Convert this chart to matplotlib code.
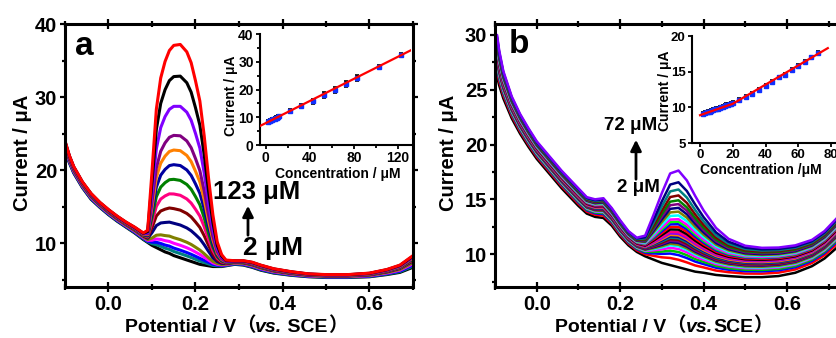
import numpy as np
import matplotlib
matplotlib.use("Agg")
import matplotlib.pyplot as plt
from matplotlib.ticker import MultipleLocator, FormatStrFormatter
from matplotlib.offsetbox import TextArea, HPacker, AnnotationBbox

plt.rcParams["font.family"] = ["Liberation Sans", "DejaVu Sans"]
plt.rcParams["font.weight"] = "bold"
plt.rcParams["axes.labelweight"] = "bold"

################################################################################
# Data.                                                   #
################################################################################
# Panel a: DPV curves = lowest baseline + background lift + oxidation peak
pot_a = [-0.10, -0.09, -0.08, -0.06, -0.04, -0.02, 0.00, 0.02, 0.04, 0.06, 0.08,
         0.09, 0.10, 0.11, 0.12, 0.13, 0.14, 0.15, 0.165, 0.18, 0.19, 0.20, 0.21,
         0.22, 0.23, 0.24, 0.25, 0.26, 0.27, 0.29, 0.31, 0.33, 0.35, 0.38, 0.42,
         0.46, 0.50, 0.55, 0.60, 0.64, 0.67, 0.70]
base_a = [22.6, 21.0, 19.6, 17.6, 16.0, 14.9, 13.9, 13.0, 12.2, 11.4, 10.5,
          10.1, 9.7, 9.4, 9.1, 8.8, 8.6, 8.3, 8.0, 7.7, 7.5, 7.3, 7.1,
          7.0, 6.9, 6.8, 6.8, 6.8, 6.9, 7.1, 7.0, 6.7, 6.3, 5.9, 5.6,
          5.4, 5.3, 5.3, 5.4, 5.7, 6.0, 6.7]
spread_a = [1.4, 1.0, 0.9, 0.8, 0.8, 0.7, 0.7, 0.7, 0.7, 0.8, 0.9,
            0.8, 0.7, 0.7, 0.7, 0.7, 0.7, 0.7, 0.7, 0.7, 0.7, 0.7, 0.7,
            0.6, 0.6, 0.5, 0.5, 0.5, 0.5, 0.5, 0.6, 0.7, 0.7, 0.6, 0.5,
            0.4, 0.4, 0.4, 0.5, 0.7, 1.0, 1.6]
shape_a = [0.0, 0.0, 0.0, 0.0, 0.0, 0.0, 0.0, 0.0, 0.0, 0.0, 0.0,
           0.03, 0.33, 0.64, 0.80, 0.89, 0.95, 0.985, 1.0, 0.975, 0.93, 0.85, 0.76,
           0.60, 0.40, 0.23, 0.10, 0.04, 0.01, 0.0, 0.0, 0.0, 0.0, 0.0, 0.0,
           0.0, 0.0, 0.0, 0.0, 0.0, 0.0, 0.0]
peak_a = [0.0, 0.5, 0.9, 1.5, 2.2, 4.1, 6.1, 8.1, 10.1, 12.1, 14.1, 16.1, 20.1, 24.2, 28.5]
lift_a = [0.0, 0.1, 0.2, 0.3, 0.4, 0.55, 0.6, 0.65, 0.7, 0.75, 0.8, 0.85, 0.9, 0.95, 1.0]
colors_a = ["#000000", "#008080", "#0000FF", "#FF00FF", "#808000", "#000080", "#800000",
            "#FF0080", "#008000", "#0000A0", "#FF8000", "#800080", "#8000FF", "#000000", "#FF0000"]

# Panel a inset: calibration
conc_a = [2, 3, 4, 5, 6, 7, 8, 9, 10, 11, 12, 22, 32, 43, 53, 63, 73, 83, 103, 123]
cur_a = [8.3, 8.5, 8.7, 8.9, 9.1, 9.3, 9.5, 9.7, 9.9, 10.1, 10.3, 12.2, 14.0, 15.8, 18.0,
         19.9, 22.0, 24.2, 28.2, 32.4]
err_a = [0.6, 0.6, 0.6, 0.6, 0.6, 0.6, 0.6, 0.6, 0.6, 0.6, 0.6, 0.7, 0.8, 0.9, 1.0,
         1.1, 1.0, 1.2, 0.6, 0.6]
fit_a_x = [-5, 132]
fit_a_y = [6.9, 34.2]

# Panel b
pot_b = [-0.10, -0.095, -0.09, -0.08, -0.06, -0.04, -0.02, 0.00, 0.02, 0.04, 0.06,
         0.08, 0.10, 0.12, 0.14, 0.16, 0.18, 0.20, 0.22, 0.24, 0.26, 0.28, 0.30,
         0.32, 0.34, 0.36, 0.38, 0.40, 0.43, 0.46, 0.50, 0.54, 0.58, 0.62, 0.66,
         0.69, 0.72, 0.75]
base_b = [25.8, 26.2, 25.4, 24.2, 22.4, 21.0, 19.8, 18.7, 17.8, 16.9, 16.0,
          15.2, 14.4, 13.7, 13.4, 13.3, 12.6, 11.6, 10.8, 10.2, 9.8, 9.5, 9.2,
          9.0, 8.8, 8.6, 8.4, 8.3, 8.1, 8.0, 7.9, 7.9, 8.0, 8.3, 8.9,
          9.6, 10.6, 11.8]
spread_b = [4.0, 3.8, 3.2, 2.5, 2.0, 1.8, 1.7, 1.6, 1.6, 1.6, 1.6,
            1.6, 1.6, 1.5, 1.6, 1.8, 1.6, 1.5, 1.3, 1.3, 1.3, 1.3, 1.4,
            1.5, 1.6, 1.7, 1.8, 1.9, 2.1, 2.3, 2.5, 2.6, 2.6, 2.5, 2.4,
            2.5, 2.7, 2.9]
shape_b = [0.0, 0.0, 0.0, 0.0, 0.0, 0.0, 0.0, 0.0, 0.0, 0.0, 0.0,
           0.0, 0.0, 0.0, 0.0, 0.0, 0.0, 0.0, 0.0, 0.0, 0.08, 0.38, 0.68,
           0.94, 0.99, 0.88, 0.70, 0.52, 0.30, 0.15, 0.05, 0.01, 0.0, 0.0, 0.0,
           0.0, 0.0, 0.0]
peak_b = [0.0, 0.5, 0.8, 1.0, 1.2, 1.4, 1.5, 1.6, 1.7, 1.8, 1.9, 2.0, 2.1, 2.2, 2.3,
          2.5, 2.7, 2.9, 3.1, 3.3, 3.6, 3.9, 4.2, 4.5, 4.8, 5.2, 5.7, 6.3, 7.3]
lift_b = [0.0, 0.12, 0.2, 0.25, 0.3, 0.33, 0.36, 0.4, 0.42, 0.45, 0.48, 0.5, 0.52, 0.55, 0.58,
          0.6, 0.63, 0.66, 0.68, 0.7, 0.73, 0.76, 0.79, 0.82, 0.85, 0.88, 0.91, 0.95, 1.0]
colors_b = ["#000000", "#FF0000", "#0000FF", "#00C000", "#FF00FF", "#00FFFF", "#808000",
            "#000080", "#800080", "#800000", "#008080", "#0000A0", "#FF8000", "#8000FF",
            "#FF0080", "#000000", "#FF0000", "#0000FF", "#00FF00", "#FF00FF", "#00FFFF",
            "#808000", "#000080", "#800080", "#008000", "#800000", "#008080", "#000080",
            "#8000FF"]

# Panel b inset
conc_b = [2, 3, 4, 5, 6, 7, 8, 9, 10, 11, 12, 13, 14, 15, 16, 17, 18, 19, 20,
          24, 28, 32, 36, 40, 44, 48, 52, 56, 60, 64, 68, 72]
cur_b = [9.1, 9.2, 9.3, 9.4, 9.4, 9.5, 9.6, 9.7, 9.8, 9.8, 9.9, 10.0, 10.1, 10.2, 10.3,
         10.3, 10.4, 10.5, 10.6, 11.0, 11.5, 11.9, 12.5, 13.0, 13.6, 14.2, 14.6, 15.3,
         15.8, 16.4, 17.0, 17.6]
err_b = [0.25] * len(conc_b)
fit_b_x = [0, 20, 78]
fit_b_y = [8.9, 10.5, 18.3]

################################################################################
# Figure.                                                                      #
################################################################################
W, H = 837, 338
fig = plt.figure(figsize=(W / 100, H / 100), dpi=100)


def box(l, t, r, b):
    return [l / W, 1 - b / H, (r - l) / W, (b - t) / H]


def style_main(ax):
    for s in ax.spines.values():
        s.set_linewidth(2.2)
    ax.tick_params(which="both", direction="out", width=1.6, labelsize=14.5, pad=2,
                   top=True, right=True)
    ax.tick_params(which="major", length=3.5)
    ax.tick_params(which="minor", length=2.5)
    ax.tick_params(axis="x", which="both", top=True, direction="inout")
    ax.tick_params(axis="x", which="major", length=7)
    ax.tick_params(axis="x", which="minor", length=5)
    ax.tick_params(axis="y", which="both", right=True)
    for t in ax.get_xticklabels() + ax.get_yticklabels():
        t.set_fontweight("bold")


def style_inset(ax, size=10):
    ax.patch.set_alpha(0)
    ax.spines["top"].set_visible(False)
    ax.spines["right"].set_visible(False)
    for s in ("left", "bottom"):
        ax.spines[s].set_linewidth(1.5)
    ax.tick_params(which="both", direction="out", width=1.3, labelsize=size, pad=1.5)
    ax.tick_params(which="major", length=3)
    ax.tick_params(which="minor", length=2)


def rich_xlabel(parts, x, y, size=14):
    areas = []
    for s, fam, st in parts:
        areas.append(TextArea(s, textprops=dict(fontsize=size, fontweight="bold",
                                                family=fam, style=st)))
    pack = HPacker(children=areas, align="baseline", pad=0, sep=0)
    ab = AnnotationBbox(pack, (x, H - y), xycoords="figure pixels", frameon=False,
                        box_alignment=(0.5, 0.5), pad=0)
    fig.add_artist(ab)


def ftext(x, y, s, **kw):
    fig.text(x / W, 1 - y / H, s, **kw)


# ---------------- Panel a
ax_a = fig.add_axes(box(65, 24, 413, 287))
pa = np.array(pot_a)
for h, f, c in zip(peak_a, lift_a, colors_a):
    ya = np.array(base_a) + f * np.array(spread_a) + h * np.array(shape_a)
    ax_a.plot(pa, ya, color=c, lw=2.2, solid_capstyle="round")
ax_a.set_xlim(-0.1, 0.7)
ax_a.set_ylim(4, 40)
ax_a.xaxis.set_major_locator(MultipleLocator(0.2))
ax_a.xaxis.set_minor_locator(MultipleLocator(0.1))
ax_a.xaxis.set_major_formatter(FormatStrFormatter("%.1f"))
ax_a.yaxis.set_major_locator(MultipleLocator(10))
ax_a.yaxis.set_minor_locator(MultipleLocator(5))
style_main(ax_a)
ax_a.set_ylabel("Current / μA", fontsize=14.5, fontweight="bold")
ax_a.yaxis.set_label_coords(-0.096, 0.51)

# ---------------- Panel b
ax_b = fig.add_axes(box(495, 24, 849.5, 287))
pb = np.array(pot_b)
for h, f, c in zip(peak_b, lift_b, colors_b):
    yb = np.array(base_b) + f * np.array(spread_b) + h * np.array(shape_b)
    ax_b.plot(pb, yb, color=c, lw=1.8, solid_capstyle="round")
ax_b.set_xlim(-0.1, 0.75)
ax_b.set_ylim(7, 31)
ax_b.xaxis.set_major_locator(MultipleLocator(0.2))
ax_b.xaxis.set_minor_locator(MultipleLocator(0.1))
ax_b.xaxis.set_major_formatter(FormatStrFormatter("%.1f"))
ax_b.yaxis.set_major_locator(MultipleLocator(5))
ax_b.yaxis.set_minor_locator(MultipleLocator(2.5))
style_main(ax_b)
ax_b.set_ylabel("Current / μA", fontsize=14.5, fontweight="bold")
ax_b.yaxis.set_label_coords(-0.104, 0.51)

# ---------------- Insets
ins_a = fig.add_axes(box(260, 34, 411, 145))
ins_a.errorbar(conc_a, cur_a, yerr=err_a, fmt="s", ms=3.5, mfc="#1030FF", mec="#1030FF",
               ecolor="black", elinewidth=1.5, capsize=1.5, capthick=1.2, zorder=2)
ins_a.plot(fit_a_x, fit_a_y, color="red", lw=1.6, zorder=3)
ins_a.set_xlim(-5.2, 131.8)
ins_a.set_ylim(0, 40)
ins_a.xaxis.set_major_locator(MultipleLocator(40))
ins_a.xaxis.set_minor_locator(MultipleLocator(20))
ins_a.yaxis.set_major_locator(MultipleLocator(10))
ins_a.yaxis.set_minor_locator(MultipleLocator(5))
style_inset(ins_a)
ins_a.set_xlabel("Concentration / μM", fontsize=10, fontweight="bold")
ins_a.set_ylabel("Current / μA", fontsize=10, fontweight="bold")
ins_a.xaxis.set_label_coords(0.513, -0.198)
ins_a.yaxis.set_label_coords(-0.146, 0.44)

ins_b = fig.add_axes(box(692, 36, 836, 143))
ins_b.errorbar(conc_b, cur_b, yerr=err_b, fmt="s", ms=3.5, mfc="#1030FF", mec="#1030FF",
               ecolor="black", elinewidth=1.5, capsize=1.5, capthick=1.2, zorder=2)
ins_b.plot(fit_b_x, fit_b_y, color="red", lw=1.6, zorder=3)
ins_b.set_xlim(-4.9, 83)
ins_b.set_ylim(5, 20)
ins_b.xaxis.set_major_locator(MultipleLocator(20))
ins_b.yaxis.set_major_locator(MultipleLocator(5))
style_inset(ins_b, size=9.5)
ins_b.set_xlabel("Concentration /μM", fontsize=10, fontweight="bold")
ins_b.set_ylabel("Current / μA", fontsize=10, fontweight="bold")
ins_b.xaxis.set_label_coords(0.48, -0.187)
ins_b.yaxis.set_label_coords(-0.14, 0.49)

# ---------------- Labels and annotations
cjk = ["Noto Sans CJK SC"]
lat = ["Liberation Sans"]
rich_xlabel([("Potential / V", lat, "normal"), ("（", cjk, "normal"), ("vs.", lat, "italic"),
             (" SCE", lat, "normal"), ("）", cjk, "normal")], 236, 326)
rich_xlabel([("Potential / V", lat, "normal"), ("（", cjk, "normal"), ("vs.", lat, "italic"),
             ("SCE", lat, "normal"), ("）", cjk, "normal")], 664, 326)

ftext(75, 55, "a", fontsize=24, fontweight="bold", ha="left", va="baseline")
ftext(509, 53, "b", fontsize=24, fontweight="bold", ha="left", va="baseline")

ftext(257, 192, "123 μM", fontsize=18.5, fontweight="bold", ha="center", va="center")
ftext(273, 248, "2 μM", fontsize=19, fontweight="bold", ha="center", va="center")
fig.add_artist(matplotlib.patches.FancyArrowPatch(
    (248 / W, 1 - 238 / H), (248 / W, 1 - 203 / H), transform=fig.transFigure,
    arrowstyle="-|>", mutation_scale=16, lw=2, color="black"))

ftext(631, 126, "72 μM", fontsize=13.5, fontweight="bold", ha="center", va="center")
ftext(638, 187, "2 μM", fontsize=13.5, fontweight="bold", ha="center", va="center")
fig.add_artist(matplotlib.patches.FancyArrowPatch(
    (636 / W, 1 - 182 / H), (636 / W, 1 - 137 / H), transform=fig.transFigure,
    arrowstyle="-|>", mutation_scale=16, lw=2, color="black"))

fig.savefig("out.png", dpi=100)
plt.close()
